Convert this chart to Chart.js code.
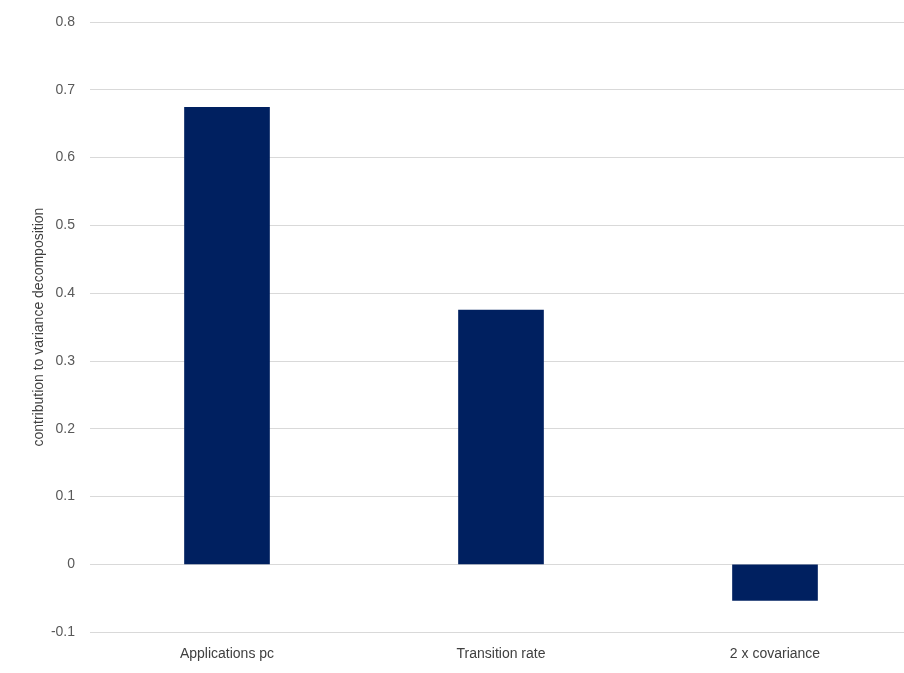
<!DOCTYPE html>
<html>
<head>
<meta charset="utf-8">
<script src="https://cdn.jsdelivr.net/npm/chart.js@4/dist/chart.umd.min.js"></script>
<style>
  html, body { margin: 0; padding: 0; background: #ffffff; overflow: hidden; }
  #wrap { position: relative; width: 912px; height: 673px; }
</style>
</head>
<body>
<div id="wrap"><canvas id="c"></canvas></div>
<script>
const categories = ["Applications pc", "Transition rate", "2 x covariance"];
const contribution = [0.674, 0.375, -0.053];
const yMin = -0.1;
const yMax = 0.8;
const yStep = 0.1;
const yTitle = "contribution to variance decomposition";

const FONT = "'Liberation Sans', Arial, sans-serif";

new Chart(document.getElementById('c'), {
  type: 'bar',
  data: {
    labels: categories,
    datasets: [{
      data: contribution,
      backgroundColor: '#002060',
      borderWidth: 0,
      barThickness: 85
    }]
  },
  options: {
    responsive: true,
    maintainAspectRatio: false,
    animation: false,
    layout: { padding: { top: 0, right: 0, bottom: -4, left: 31 } },
    plugins: { legend: { display: false }, tooltip: { enabled: false }, title: { display: false } },
    scales: {
      x: {
        grid: { display: false, drawTicks: false },
        border: { display: false },
        ticks: { color: '#404040', font: { family: FONT, size: 14 }, padding: 14 }
      },
      y: {
        min: yMin,
        max: yMax,
        afterFit: (scale) => { scale.width = 59; },
        grid: { color: '#d9d9d9', lineWidth: 1, drawTicks: false },
        border: { display: false },
        ticks: { stepSize: yStep, color: '#595959', font: { family: FONT, size: 14, lineHeight: 1 }, padding: 15,
                 callback: v => Number(v.toFixed(1)).toString() },
        title: { display: true, text: yTitle, color: '#404040', font: { family: FONT, size: 14 }, padding: { top: 0, bottom: 0 } }
      }
    }
  }
});
</script>
</body>
</html>
